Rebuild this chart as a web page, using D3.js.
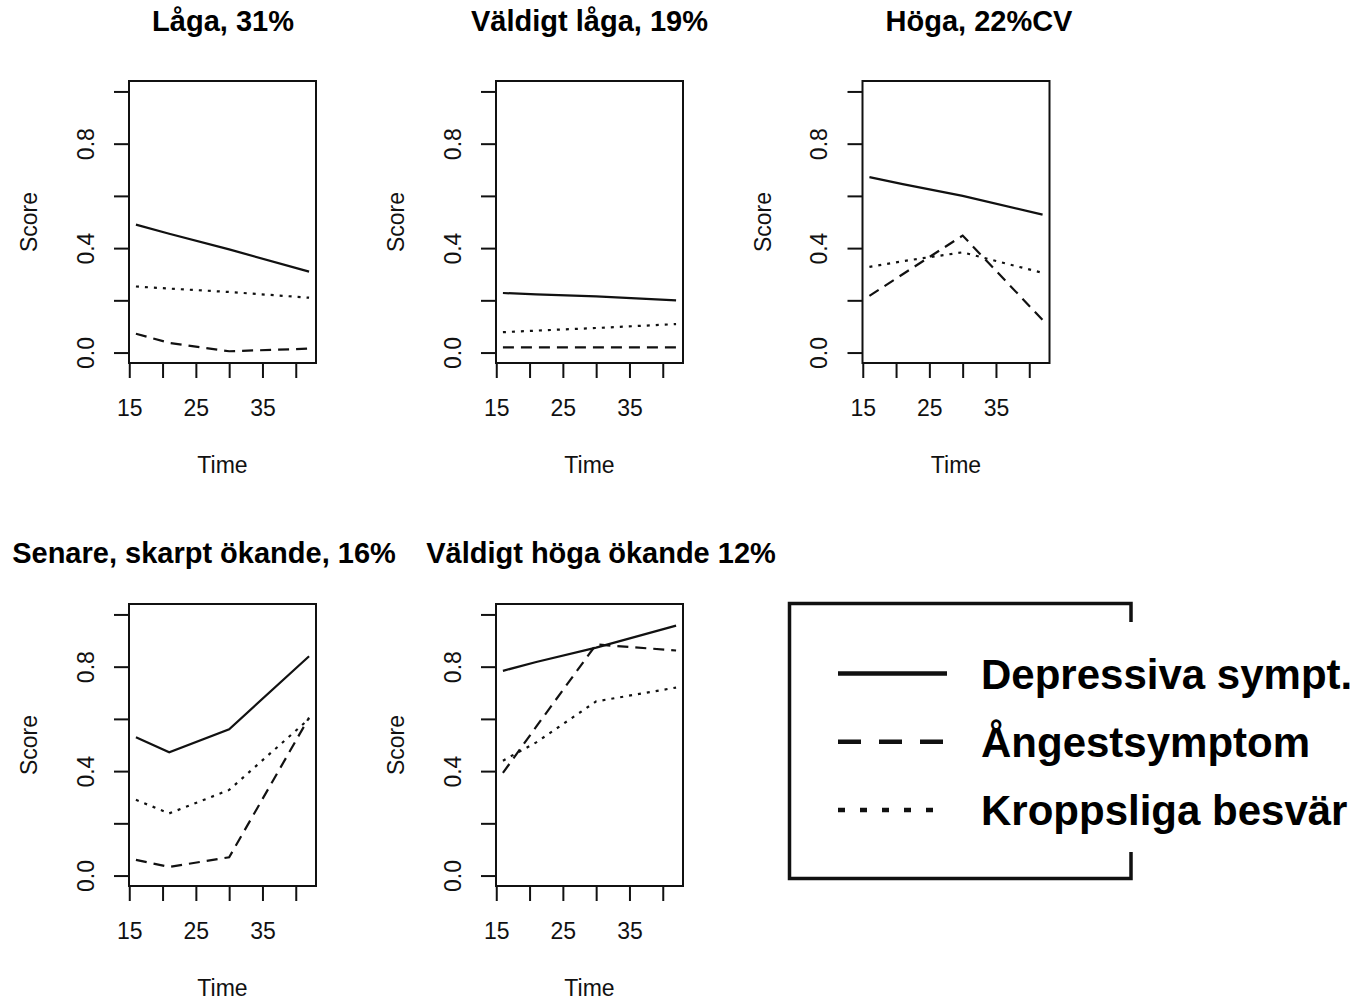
<!DOCTYPE html>
<html>
<head>
<meta charset="utf-8">
<script src="https://cdn.jsdelivr.net/npm/d3@7"></script>
<style>
  body { margin: 0; background: white; }
  svg { display: block; font-family: "Liberation Sans", Arial, sans-serif; }
</style>
</head>
<body>
<div id="chart"></div>
<script>
// data
const times = [16, 21, 30, 42];
const panelTitles = [
  "Låga, 31%",
  "Väldigt låga, 19%",
  "Höga, 22%CV",
  "Senare, skarpt ökande, 16%",
  "Väldigt höga ökande 12%"
];
const seriesNames = ["Depressiva sympt.", "Ångestsymptom", "Kroppsliga besvär"];
// one row per panel, one value per time point
const depressiva = [
  [0.49, 0.455, 0.395, 0.31],
  [0.228, 0.223, 0.215, 0.2],
  [0.672, 0.645, 0.6, 0.528],
  [0.53, 0.472, 0.56, 0.84],
  [0.784, 0.818, 0.873, 0.957]
];
const angest = [
  [0.072, 0.037, 0.005, 0.015],
  [0.02, 0.02, 0.02, 0.02],
  [0.217, 0.3, 0.448, 0.125],
  [0.06, 0.033, 0.07, 0.605],
  [0.393, 0.57, 0.885, 0.862]
];
const kroppsliga = [
  [0.253, 0.245, 0.232, 0.21],
  [0.078, 0.084, 0.094, 0.109],
  [0.328, 0.35, 0.384, 0.305],
  [0.29, 0.238, 0.328, 0.6],
  [0.44, 0.51, 0.667, 0.72]
];
const xTicks = [15, 20, 25, 30, 35, 40];
const xTickLabels = [15, 25, 35];
const yTicks = [0, 0.2, 0.4, 0.6, 0.8, 1.0];
const yTickLabels = [0, 0.4, 0.8];

// layout
const W = 1368, H = 1000;
const BOX = { W: 187, H: 282 };
const LEFTS = [129, 496, 862.5];
const TOPS = [81, 604];
const TITLE_X = [223, 589.5, 979, 204, 601];
const TITLE_Y = [31, 563];
const DASH = ["none", "11,7", "3,6"];
const LEGEND_DASH = ["none", "23,18", "7,15"];

const svg = d3.select("#chart")
  .append("svg")
  .attr("width", W)
  .attr("height", H)
  .style("background", "white");

panelTitles.forEach((title, i) => {
  const row = Math.floor(i / 3), col = i % 3;
  const left = LEFTS[col], top = TOPS[row];

  const g = svg.append("g").attr("transform", `translate(${left}, ${top})`);

  // R style: 4% padding on both axes
  const xScale = d3.scaleLinear().domain([16 - 1.04, 42 + 1.04]).range([0, BOX.W]);
  const yScale = d3.scaleLinear().domain([-0.04, 1.04]).range([BOX.H, 0]);

  const xAxis = g.append("g")
    .attr("transform", `translate(0, ${BOX.H})`)
    .call(d3.axisBottom(xScale)
      .tickValues(xTicks)
      .tickSize(15)
      .tickSizeOuter(0)
      .tickFormat((d) => (xTickLabels.includes(d) ? d : "")));
  xAxis.select(".domain").remove();
  xAxis.selectAll("line").attr("stroke", "#111").attr("stroke-width", 2);
  xAxis.selectAll("text")
    .attr("y", 53)
    .attr("dy", 0)
    .attr("font-size", 23)
    .attr("font-family", "Liberation Sans, Arial, sans-serif")
    .attr("fill", "#111");

  const yAxis = g.append("g")
    .call(d3.axisLeft(yScale)
      .tickValues(yTicks)
      .tickSize(15)
      .tickSizeOuter(0)
      .tickFormat((d) => (yTickLabels.includes(d) ? d3.format(".1f")(d) : "")));
  yAxis.select(".domain").remove();
  yAxis.selectAll("line").attr("stroke", "#111").attr("stroke-width", 2);
  yAxis.selectAll("text")
    .attr("transform", "rotate(-90)")
    .attr("x", 0)
    .attr("y", -35.5)
    .attr("dy", 0)
    .attr("text-anchor", "middle")
    .attr("font-size", 23)
    .attr("font-family", "Liberation Sans, Arial, sans-serif")
    .attr("fill", "#111");

  // axis lines span first to last tick like base R
  g.append("line")
    .attr("x1", xScale(15)).attr("x2", xScale(40))
    .attr("y1", BOX.H).attr("y2", BOX.H)
    .attr("stroke", "#111").attr("stroke-width", 2);

  g.append("rect")
    .attr("width", BOX.W)
    .attr("height", BOX.H)
    .attr("fill", "none")
    .attr("stroke", "#111")
    .attr("stroke-width", 2);

  const line = d3.line()
    .x((d, idx) => xScale(times[idx]))
    .y((d) => yScale(d));

  [depressiva[i], angest[i], kroppsliga[i]].forEach((values, s) => {
    g.append("path")
      .attr("d", line(values))
      .attr("fill", "none")
      .attr("stroke", "#111")
      .attr("stroke-width", 2.2)
      .attr("stroke-dasharray", DASH[s]);
  });

  svg.append("text")
    .attr("x", TITLE_X[i])
    .attr("y", TITLE_Y[row])
    .attr("text-anchor", "middle")
    .attr("font-size", 29)
    .attr("font-weight", "bold")
    .text(title);

  g.append("text")
    .attr("x", BOX.W / 2)
    .attr("y", BOX.H + 110)
    .attr("text-anchor", "middle")
    .attr("font-size", 23)
    .attr("fill", "#111")
    .text("Time");

  g.append("text")
    .attr("transform", "rotate(-90)")
    .attr("x", -BOX.H / 2)
    .attr("y", -92)
    .attr("text-anchor", "middle")
    .attr("font-size", 23)
    .attr("fill", "#111")
    .text("Score");
});

// legend, right border is hidden behind the long labels
const legend = { x0: 789.5, x1: 1131, y0: 603.5, y1: 878.5, gapTop: 622, gapBottom: 852 };
svg.append("path")
  .attr("d", `M${legend.x1},${legend.gapTop} L${legend.x1},${legend.y0} L${legend.x0},${legend.y0} ` +
    `L${legend.x0},${legend.y1} L${legend.x1},${legend.y1} L${legend.x1},${legend.gapBottom}`)
  .attr("fill", "none")
  .attr("stroke", "#111")
  .attr("stroke-width", 3.5);

const legendY = d3.scalePoint().domain(seriesNames).range([673.5, 810]);

seriesNames.forEach((name, s) => {
  svg.append("line")
    .attr("x1", 838).attr("x2", 947)
    .attr("y1", legendY(name)).attr("y2", legendY(name))
    .attr("stroke", "#111")
    .attr("stroke-width", 4.5)
    .attr("stroke-dasharray", LEGEND_DASH[s]);

  svg.append("text")
    .attr("x", 981)
    .attr("y", legendY(name) + 15)
    .attr("font-size", 42)
    .attr("font-weight", "bold")
    .text(name);
});
</script>
</body>
</html>
